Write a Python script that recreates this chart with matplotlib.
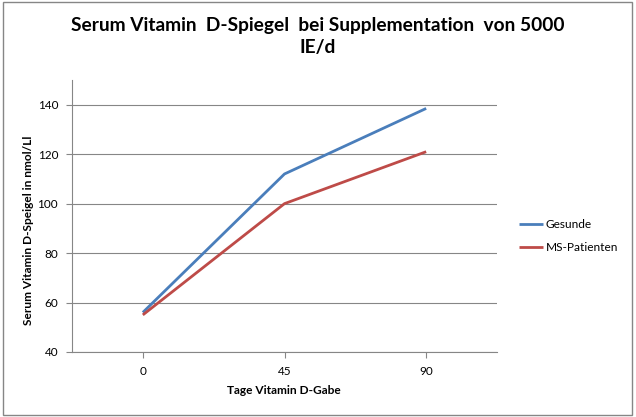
import matplotlib
matplotlib.use("Agg")
import matplotlib.pyplot as plt
from matplotlib.patches import Rectangle

categories = ["0", "45", "90"]
gesunde = [56, 112, 138.5]
ms_patienten = [55, 100, 121]
yticks = [40, 60, 80, 100, 120, 140]

plt.rcParams['font.family'] = ['Lato', 'DejaVu Sans']

W, H = 636, 417
fig = plt.figure(figsize=(W/100, H/100), dpi=100)

# chart frame
fig.patches.append(Rectangle((3/W, 2/H), (632-3)/W, (415-2)/H, transform=fig.transFigure,
                             fill=False, edgecolor='#868686', linewidth=1.0))

ax_l, ax_r = 72, 497
ax_t, ax_b = 80, 352
ax = fig.add_axes([ax_l/W, 1-ax_b/H, (ax_r-ax_l)/W, (ax_b-ax_t)/H])

x = list(range(len(categories)))
ax.plot(x, gesunde, color='#4A7EBB', linewidth=2.0, label='Gesunde', solid_capstyle='butt')
ax.plot(x, ms_patienten, color='#BE4B48', linewidth=2.0, label='MS-Patienten', solid_capstyle='butt')

ax.set_xlim(-0.5, 2.5)
ax.set_ylim(40, 150)
ax.set_yticks(yticks)
ax.set_xticks(x)
ax.set_xticklabels(categories)
ax.yaxis.grid(True, color='#868686', linewidth=0.8)
ax.set_axisbelow(True)
for s in ['top', 'right']:
    ax.spines[s].set_visible(False)
for s in ['left', 'bottom']:
    ax.spines[s].set_color('#868686')
    ax.spines[s].set_linewidth(0.8)
ax.tick_params(axis='both', colors='#868686', labelcolor='black', labelsize=8.5, length=4, width=0.8)
ax.tick_params(axis='x', pad=6)
ax.tick_params(axis='y', pad=6)

fig.text(284/W, 1-390/H, 'Tage Vitamin D-Gabe', ha='center', va='center', fontsize=8.6, fontweight='bold')
fig.text(29/W, 1-230/H, 'Serum Vitamin D-Speigel in nmol/Ll', ha='center', va='center',
         rotation=90, fontsize=8.6, fontweight='bold')

fig.text(318/W, 1-25/H, 'Serum Vitamin  D-Spiegel  bei Supplementation  von 5000', ha='center', va='center',
         fontsize=13.8, fontweight='bold')
fig.text(318/W, 1-47/H, 'IE/d', ha='center', va='center', fontsize=13.8, fontweight='bold')

leg = fig.legend(loc='upper left', bbox_to_anchor=(514/W, 1-214/H), frameon=False, fontsize=8.6,
                 handlelength=2.0, handletextpad=0.25, labelspacing=1.0, borderaxespad=0)

fig.savefig('out.png', dpi=100)
